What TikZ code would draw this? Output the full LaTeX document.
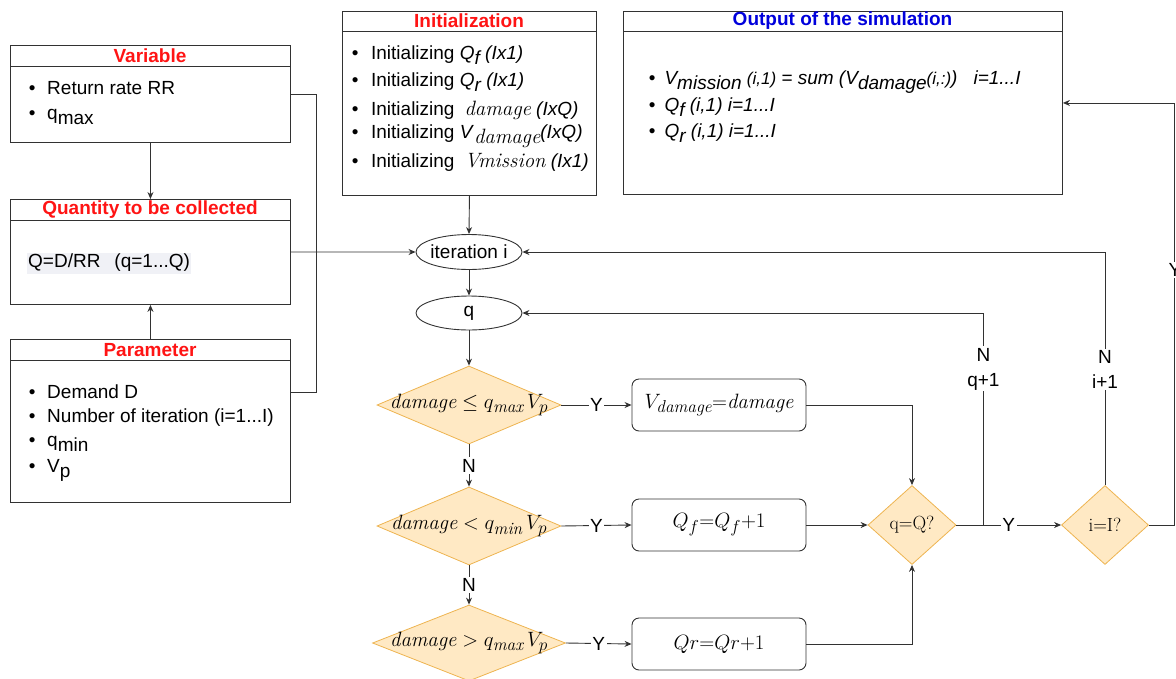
\documentclass[tikz,border=0pt]{standalone}
\usepackage{fontspec}
\setsansfont{Liberation Sans}
\usetikzlibrary{shapes.geometric,arrows.meta}
\definecolor{tred}{RGB}{255,20,20}
\definecolor{tblue}{RGB}{0,0,220}
\definecolor{dfill}{RGB}{255,233,196}
\definecolor{dline}{RGB}{238,180,80}
\definecolor{lc}{RGB}{50,50,50}
\definecolor{hl}{RGB}{240,241,246}
\DeclareMathSizes{20.74}{20.74}{17.28}{12}
\newcommand{\bl}[1]{\textbullet\hspace{#1}}
\newcommand{\sub}[1]{\raisebox{-0.28em}{#1}}
\newcommand{\smf}{\fontsize{17}{19}\selectfont}
\newcommand{\mf}{\fontsize{20.74}{24}\selectfont}
\begin{document}
\begin{tikzpicture}[x=1pt,y=-1pt,
  every node/.style={font=\sffamily\fontsize{19}{22}\selectfont, inner sep=0pt},
  panel/.style={draw=lc, line width=0.9pt, anchor=north west, inner sep=0pt},
  ttl/.style={font=\sffamily\bfseries\fontsize{19}{22}\selectfont},
  txt/.style={anchor=base west},
  dia/.style={diamond, draw=dline, fill=dfill, line width=0.8pt, inner sep=0pt},
  ell/.style={ellipse, draw=lc, line width=0.9pt, minimum width=106pt, minimum height=35pt},
  rbox/.style={draw=lc, rounded corners=7pt, line width=0.9pt, minimum width=174pt, minimum height=52pt},
  conn/.style={draw=lc, line width=0.9pt},
  arr/.style={conn, -{Stealth[length=7pt,width=6pt]}},
  lbl/.style={fill=white, inner sep=1.5pt},
  nlbl/.style={fill=white, inner sep=1.5pt, align=center, font=\sffamily\fontsize{19}{25}\selectfont}
]
\useasboundingbox (0,0) rectangle (1176,678);

% ---------- left panels ----------
\node[panel, minimum width=280pt, minimum height=97pt] (var) at (10,45) {};
\draw[conn] ([yshift=-21pt]var.north west) -- ([yshift=-21pt]var.north east);
\node[ttl, text=tred] (varT) at (150,56) {Variable};
\node[txt] (v1) at (28.7,94) {\bl{11.7pt}Return rate RR};
\node[txt] (v2) at (28.7,119) {\bl{11.7pt}q\sub{max}};

\node[panel, minimum width=280pt, minimum height=105pt] (qty) at (10,199) {};
\draw[conn] ([yshift=-21pt]qty.north west) -- ([yshift=-21pt]qty.north east);
\node[ttl, text=tred] (qtyT) at (150,210) {Quantity to be collected};
\node[anchor=west, fill=hl, inner sep=1pt, minimum height=21pt] (q1) at (27,263) {Q=D/RR\hspace{14pt}(q=1...Q)};

\node[panel, minimum width=280pt, minimum height=163pt] (par) at (10,339) {};
\draw[conn] ([yshift=-21pt]par.north west) -- ([yshift=-21pt]par.north east);
\node[ttl, text=tred] (parT) at (150,350) {Parameter};
\node[txt] (p1) at (28.7,398) {\bl{11.7pt}Demand D};
\node[txt] (p2) at (28.7,422) {\bl{11.7pt}Number of iteration (i=1...I)};
\node[txt] (p3) at (28.7,446) {\bl{11.7pt}q\sub{min}};
\node[txt] (p4) at (28.7,472) {\bl{11.7pt}V\sub{p}};

% ---------- initialization ----------
\node[panel, minimum width=254pt, minimum height=184pt] (init) at (342,11) {};
\draw[conn] ([yshift=-20pt]init.north west) -- ([yshift=-20pt]init.north east);
\node[ttl, text=tred] (initT) at (469,21) {Initialization};
\node[txt] (i1) at (351.7,59) {\bl{12.6pt}Initializing \textit{Q\sub{f} (Ix1)}};
\node[txt] (i2) at (351.7,86) {\bl{12.6pt}Initializing \textit{Q\sub{r} (Ix1)}};
\node[txt] (i3) at (351.7,115) {\bl{12.6pt}Initializing\hspace{10pt}{\rmfamily\itshape\mf damage} \textit{(IxQ)}};
\node[txt] (i4) at (351.7,138) {\bl{12.6pt}Initializing \textit{V}\sub{\rmfamily\itshape\mf damage}\textit{(IxQ)}};
\node[txt] (i5) at (351.7,167) {\bl{12.6pt}Initializing\hspace{10pt}{\rmfamily\itshape\mf Vmission} \textit{(Ix1)}};

% ---------- output ----------
\node[panel, minimum width=439pt, minimum height=183pt] (out) at (623,11) {};
\draw[conn] ([yshift=-20pt]out.north west) -- ([yshift=-20pt]out.north east);
\node[ttl, text=tblue] (outT) at (842.5,21) {Output of the simulation};
\node[txt] (o1) at (648.7,84) {\bl{9pt}\textit{V\sub{mission} {\smf(i,1)} = sum (V\sub{damage}{\smf(i,:)})\hspace{16pt}i=1...I}};
\node[txt] (o2) at (648.7,111) {\bl{9pt}\textit{Q\sub{f} (i,1) i=1...I}};
\node[txt] (o3) at (648.7,137) {\bl{9pt}\textit{Q\sub{r} (i,1) i=1...I}};

% ---------- flow ----------
\node[ell, label={center:iteration i}] (iter) at (469,252) {};
\node[ell, minimum height=34pt, label={center:q}] (q) at (469,313) {};

\node[dia, minimum width=184pt, minimum height=78pt, label={center:{\mf$\mathit{damage} \le q_{\mathit{max}}\,V_p$}}] (d1) at (469,405) {};
\node[dia, minimum width=184pt, minimum height=78pt, label={center:{\mf$\mathit{damage} < q_{\mathit{min}}\,V_p$}}] (d2) at (469,526) {};
\node[dia, minimum width=193pt, minimum height=76pt, label={center:{\mf$\mathit{damage} > q_{\mathit{max}}\,V_p$}}] (d3) at (469,643) {};

\node[rbox, label={center:{\mf$V_{\mathit{damage}}{=}\mathit{damage}$}}] (vd) at (719,405) {};
\node[rbox, label={center:{\mf$Q_f{=}Q_f{+}1$}}] (qf) at (719,525) {};
\node[rbox, label={center:{\mf$Qr{=}Qr{+}1$}}] (qr) at (719,644) {};

\node[dia, minimum width=88pt, minimum height=79pt, label={center:{\rmfamily q=Q?}}] (dq) at (912,525) {};
\node[dia, minimum width=87pt, minimum height=79pt, label={center:{\rmfamily i=I?}}] (di) at (1105,525) {};

% ---------- connectors ----------
\draw[arr] (var.south) -- (qty.north);
\draw[arr] (par.north) -- (qty.south);
\draw[conn] (var.east) -- ++(26,0) |- ([yshift=28.5pt]par.east);
\draw[arr] (qty.east) -- (iter.west);
\draw[arr] (init.south) -- (iter.north);
\draw[arr] (iter.south) -- (q.north);
\draw[arr] (q.south) -- (d1.north);

\draw[arr] (d1.east) -- node[lbl] (y1) {Y} (vd.west);
\draw[arr] (d1.south) -- node[lbl] (n1) {N} (d2.north);
\draw[arr] (d2.east) -- node[lbl] (y2) {Y} (qf.west);
\draw[arr] (d2.south) -- node[lbl] (n2) {N} (d3.north);
\draw[arr] (d3.east) -- node[lbl] (y3) {Y} (qr.west);

\draw[arr] (vd.east) -| (dq.north);
\draw[arr] (qf.east) -- (dq.west);
\draw[arr] (qr.east) -| (dq.south);

\draw[arr] (dq.east) -- node[lbl] (y4) {Y} (di.west);
\draw[arr] ([xshift=27pt]dq.east) |- node[nlbl, pos=0.368] (nq) {N\\q+1} (q.east);
\draw[arr] (di.north) |- node[nlbl, pos=0.248] (ni) {N\\i+1} (iter.east);
\draw[arr] (di.east) -- ++(26,0) |- node[lbl, pos=0.302] (y5) {Y} (out.east);
\end{tikzpicture}
\end{document}
